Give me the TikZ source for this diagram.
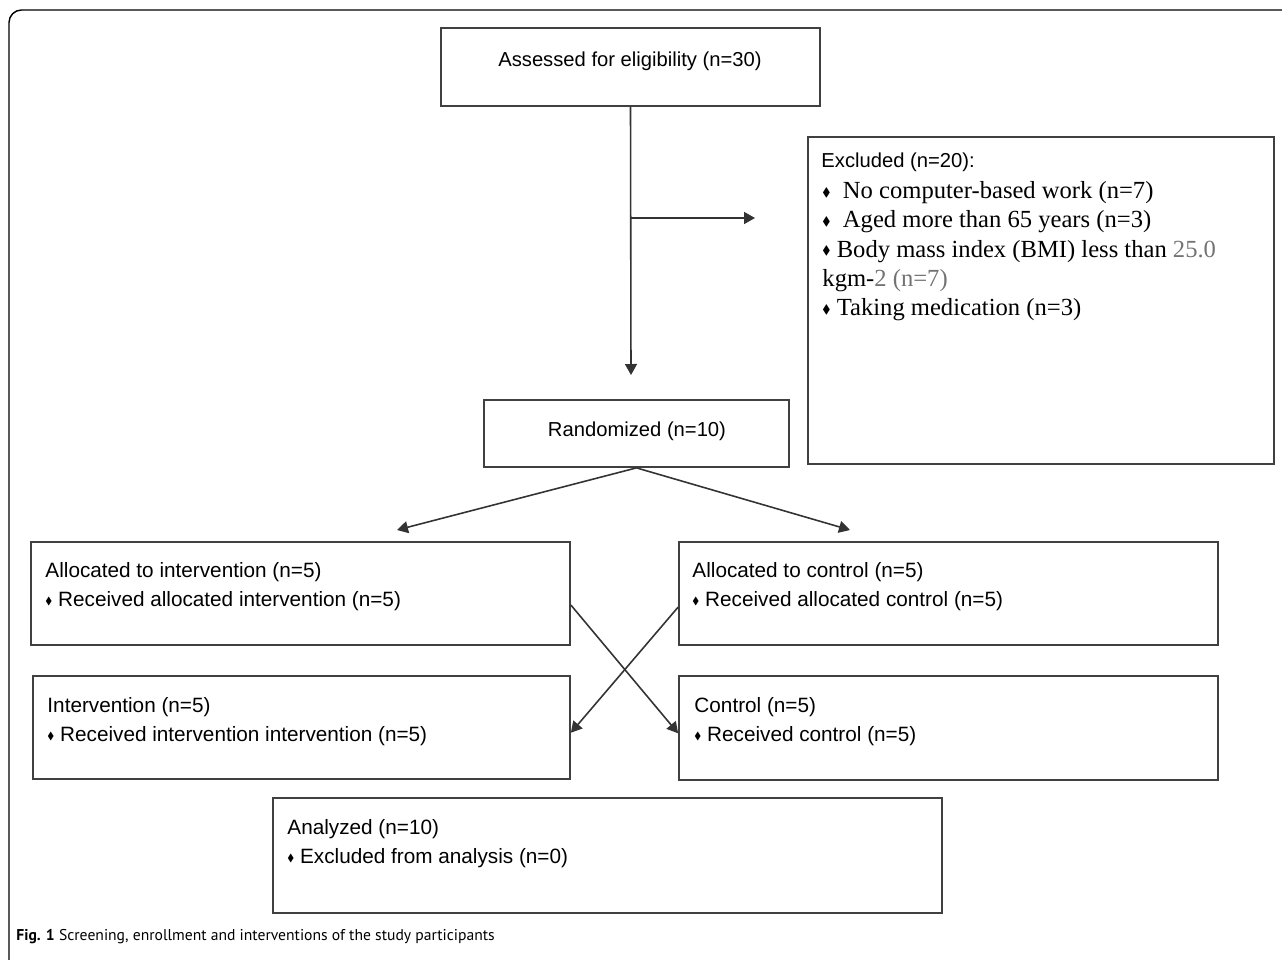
\documentclass[tikz,border=0pt]{standalone}
\usepackage{fontspec}
\usepackage{amssymb}
\usepackage{graphicx}
\setmainfont{Liberation Serif}
\setsansfont{Liberation Sans}
\newfontfamily\capfont{PT Sans}
\usetikzlibrary{arrows.meta, fit, calc}

\newcommand{\bul}{\raisebox{0.2ex}{\scalebox{0.5}{$\blacklozenge$}}}

\begin{document}
\begin{tikzpicture}[x=0.02cm, y=-0.02cm,
  box/.style={draw=black!75, line width=1pt, inner sep=0pt},
  txt/.style={font=\sffamily\fontsize{11.8}{16.5}\selectfont, align=left, inner sep=0pt, anchor=north west},
  arr/.style={draw=black!80, line width=0.9pt, -{Triangle[length=2.2mm,width=2.4mm]}}]
\useasboundingbox (0,0) rectangle (1282,960);

% frame
\draw[line width=0.8pt, rounded corners=0.25cm] (9,960) -- (9,10) -- (1282,10);

% boxes
\node[box, fit={(441,28) (820,106)}] (assess) {};
\node[box, fit={(808,137) (1274,464)}] (excl) {};
\node[box, fit={(484,400) (789,467)}] (rand) {};
\node[box, fit={(31,542) (570,645)}] (allocint) {};
\node[box, fit={(679,542) (1218,645)}] (allocctl) {};
\node[box, fit={(33,676) (570,779)}] (int) {};
\node[box, fit={(679,676) (1218,780)}] (ctl) {};
\node[box, fit={(273,798) (942,913)}] (anal) {};

% texts
\node[font=\sffamily\fontsize{11.5}{14}\selectfont] (assesstxt) at (630,61) {Assessed for eligibility (n=30)};
\node[font=\sffamily\fontsize{11.5}{14}\selectfont] (randtxt) at (637,431) {Randomized (n=10)};
\node[txt, font=\sffamily\fontsize{11.5}{14}\selectfont] (exchead) at ($(excl.north west)+(14,16)$) {Excluded (n=20):};
\node[txt, font=\rmfamily\fontsize{14}{16.7}\selectfont] (exclist) at ($(excl.north west)+(15,45)$)
  {\bul\ \ No computer-based work (n=7)\\
   \bul\ \ Aged more than 65 years (n=3)\\
   \bul\ Body mass index (BMI) less than \textcolor{black!55}{25.0}\\
   kgm-\textcolor{black!55}{2 (n=7)}\\
   \bul\ Taking medication (n=3)};
\node[txt] (allocinttxt) at ($(allocint.north west)+(15,21)$) {Allocated to intervention (n=5)\\\bul\ Received allocated intervention (n=5)};
\node[txt] (allocctltxt) at ($(allocctl.north west)+(14,21)$) {Allocated to control (n=5)\\\bul\ Received allocated control (n=5)};
\node[txt] (inttxt) at ($(int.north west)+(15,22)$) {Intervention (n=5)\\\bul\ Received intervention intervention (n=5)};
\node[txt] (ctltxt) at ($(ctl.north west)+(16,22)$) {Control (n=5)\\\bul\ Received control (n=5)};
\node[txt] (analtxt) at ($(anal.north west)+(15,22)$) {Analyzed (n=10)\\\bul\ Excluded from analysis (n=0)};

% connectors
\coordinate (down) at (631,375);
\coordinate (split) at (631,218);
\coordinate (side) at (755,218);
\coordinate (ltip) at (397,530);
\coordinate (rtip) at (850,530);
\draw[arr] (assess.south) -- (down);
\draw[arr] (split) -- (side);
\draw[arr] (rand.south) -- (ltip);
\draw[arr] (rand.south) -- (rtip);
\draw[arr] ($(allocint.north east)!0.61!(allocint.south east)$) -- ($(ctl.north west)!0.55!(ctl.south west)$);
\draw[arr] ($(allocctl.north west)!0.63!(allocctl.south west)$) -- ($(int.north east)!0.55!(int.south east)$);

% caption
\node[anchor=west, inner sep=0pt, font=\capfont\fontsize{8.9}{11}\selectfont] (caption) at (16,937)
  {\textbf{Fig. 1} Screening, enrollment and interventions of the study participants};
\end{tikzpicture}
\end{document}
